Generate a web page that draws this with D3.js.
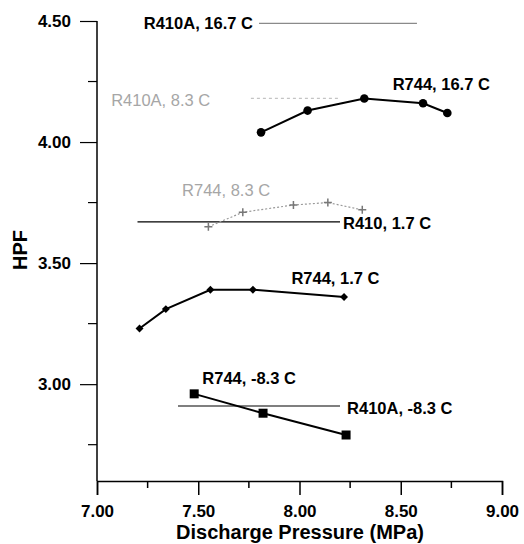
<!DOCTYPE html>
<html>
<head>
<meta charset="utf-8">
<style>
  body { margin: 0; background: #fff; }
  svg text { font-family: "Liberation Sans", Arial, sans-serif; }
  .tick-label { font-size: 17px; font-weight: bold; fill: #000; }
  .ann { font-size: 16.5px; font-weight: bold; fill: #000; }
  .ann.grey { font-weight: normal; fill: #a6a6a6; }
</style>
</head>
<body>
<svg id="chart" width="524" height="544"></svg>
<script src="https://cdn.jsdelivr.net/npm/d3@7"></script>
<script>
// R744 series (markers + lines)
var r744_167_x = [7.81, 8.04, 8.32, 8.61, 8.73];
var r744_167_y = [4.04, 4.13, 4.18, 4.16, 4.12];

var r744_83_x = [7.55, 7.72, 7.97, 8.14, 8.31];
var r744_83_y = [3.65, 3.71, 3.74, 3.75, 3.72];

var r744_17_x = [7.21, 7.34, 7.56, 7.77, 8.22];
var r744_17_y = [3.23, 3.31, 3.39, 3.39, 3.36];

var r744_m83_x = [7.48, 7.82, 8.23];
var r744_m83_y = [2.96, 2.88, 2.79];

// R410A constant lines: [x start, x end], y value
var r410a_167 = { x: [7.80, 8.58], y: 4.49 };
var r410a_83 = { x: [7.76, 8.19], y: 4.18 };
var r410_17 = { x: [7.20, 8.20], y: 3.67 };
var r410a_m83 = { x: [7.40, 8.20], y: 2.91 };

var xTicks = [7.00, 7.50, 8.00, 8.50, 9.00];
var xMinor = [7.25, 7.75, 8.25, 8.75];
var yTicks = [3.00, 3.50, 4.00, 4.50];
var yMinor = [2.75, 3.25, 3.75, 4.25];

// annotation labels, anchored in data units
var labels = [
  { t: 'R410A, 16.7 C', x: 7.77, y: 4.49, anchor: 'end', grey: false },
  { t: 'R410A, 8.3 C', x: 7.07, y: 4.175, anchor: 'start', grey: true },
  { t: 'R744, 16.7 C', x: 8.46, y: 4.24, anchor: 'start', grey: false },
  { t: 'R744, 8.3 C', x: 7.42, y: 3.80, anchor: 'start', grey: true },
  { t: 'R410, 1.7 C', x: 8.215, y: 3.665, anchor: 'start', grey: false },
  { t: 'R744, 1.7 C', x: 7.96, y: 3.44, anchor: 'start', grey: false },
  { t: 'R744, -8.3 C', x: 7.52, y: 3.025, anchor: 'start', grey: false },
  { t: 'R410A, -8.3 C', x: 8.235, y: 2.90, anchor: 'start', grey: false }
];

var svg = d3.select('#chart');

var x = d3.scaleLinear().domain([7, 9]).range([97, 502]);
var y = d3.scaleLinear().domain([2.6, 4.5]).range([481, 21]);

var zip = (xs, ys) => xs.map((v, i) => [v, ys[i]]);
var line = d3.line().x(d => x(d[0])).y(d => y(d[1]));

// axes
var xAxis = d3.axisBottom(x).tickValues(xTicks).tickSize(14).tickFormat(d3.format('.2f'));
var gx = svg.append('g').attr('transform', 'translate(0,481)').call(xAxis);
gx.select('.domain').attr('stroke', '#000').attr('stroke-width', 1.5);
gx.selectAll('.tick line').attr('stroke-width', 1.5);
gx.selectAll('.tick text').attr('class', 'tick-label').attr('dy', '1.1em');
gx.selectAll('.minor').data(xMinor).enter().append('line')
  .attr('x1', d => x(d)).attr('x2', d => x(d))
  .attr('y1', 0).attr('y2', 7)
  .attr('stroke', '#000').attr('stroke-width', 1.5);

var yAxis = d3.axisLeft(y).tickValues(yTicks).tickSize(17).tickPadding(9).tickFormat(d3.format('.2f'));
var gy = svg.append('g').attr('transform', 'translate(97,0)').call(yAxis);
gy.select('.domain').attr('d', 'M0,' + y(4.5) + 'V481').attr('stroke', '#000').attr('stroke-width', 1.5);
gy.selectAll('.tick line').attr('stroke-width', 1.2);
gy.selectAll('.tick text').attr('class', 'tick-label');
gy.selectAll('.minor').data(yMinor).enter().append('line')
  .attr('x1', -9).attr('x2', 0)
  .attr('y1', d => y(d)).attr('y2', d => y(d))
  .attr('stroke', '#000').attr('stroke-width', 1.2);

// axis titles
svg.append('text')
  .attr('x', 300).attr('y', 539)
  .attr('text-anchor', 'middle')
  .style('font-size', '20px').style('font-weight', 'bold')
  .text('Discharge Pressure (MPa)');

svg.append('text')
  .attr('transform', 'translate(27,250) rotate(-90)')
  .attr('text-anchor', 'middle')
  .style('font-size', '20px').style('font-weight', 'bold')
  .text('HPF');

// R410A horizontal lines
function hline(o, color, width, dash) {
  svg.append('line')
    .attr('x1', x(o.x[0])).attr('x2', x(o.x[1]))
    .attr('y1', y(o.y)).attr('y2', y(o.y))
    .attr('stroke', color).attr('stroke-width', width)
    .attr('stroke-dasharray', dash);
}
hline(r410a_167, '#8a8a8a', 1.3, null);
hline(r410a_83, '#c4c4c4', 1.2, '3,3');
hline(r410_17, '#000', 1.3, null);
hline(r410a_m83, '#000', 1.1, null);

// R744, 8.3 C (grey dotted with plus markers)
var d83 = zip(r744_83_x, r744_83_y);
svg.append('path').attr('d', line(d83))
  .attr('fill', 'none').attr('stroke', '#9a9a9a').attr('stroke-width', 1.2)
  .attr('stroke-dasharray', '2,2');
svg.selectAll('.plus').data(d83).enter().append('path')
  .attr('d', d => 'M' + (x(d[0]) - 4) + ',' + y(d[1]) + 'h8M' + x(d[0]) + ',' + (y(d[1]) - 4) + 'v8')
  .attr('stroke', '#777').attr('stroke-width', 1.5);

// R744, 16.7 C (circles)
var d167 = zip(r744_167_x, r744_167_y);
svg.append('path').attr('d', line(d167))
  .attr('fill', 'none').attr('stroke', '#000').attr('stroke-width', 2);
svg.selectAll('.circ').data(d167).enter().append('circle')
  .attr('cx', d => x(d[0])).attr('cy', d => y(d[1])).attr('r', 4.3)
  .attr('fill', '#000');

// R744, 1.7 C (diamonds)
var d17 = zip(r744_17_x, r744_17_y);
svg.append('path').attr('d', line(d17))
  .attr('fill', 'none').attr('stroke', '#000').attr('stroke-width', 2);
svg.selectAll('.diam').data(d17).enter().append('path')
  .attr('d', d3.symbol().type(d3.symbolDiamond2).size(40))
  .attr('transform', d => 'translate(' + x(d[0]) + ',' + y(d[1]) + ')')
  .attr('fill', '#000');

// R744, -8.3 C (squares)
var dm83 = zip(r744_m83_x, r744_m83_y);
svg.append('path').attr('d', line(dm83))
  .attr('fill', 'none').attr('stroke', '#000').attr('stroke-width', 2);
svg.selectAll('.sq').data(dm83).enter().append('rect')
  .attr('x', d => x(d[0]) - 4.5).attr('y', d => y(d[1]) - 4.5)
  .attr('width', 9).attr('height', 9)
  .attr('fill', '#000');

// annotations
svg.selectAll('.ann').data(labels).enter().append('text')
  .attr('class', d => d.grey ? 'ann grey' : 'ann')
  .attr('x', d => x(d.x)).attr('y', d => y(d.y))
  .attr('dy', '0.36em')
  .attr('text-anchor', d => d.anchor)
  .text(d => d.t);
</script>
</body>
</html>
